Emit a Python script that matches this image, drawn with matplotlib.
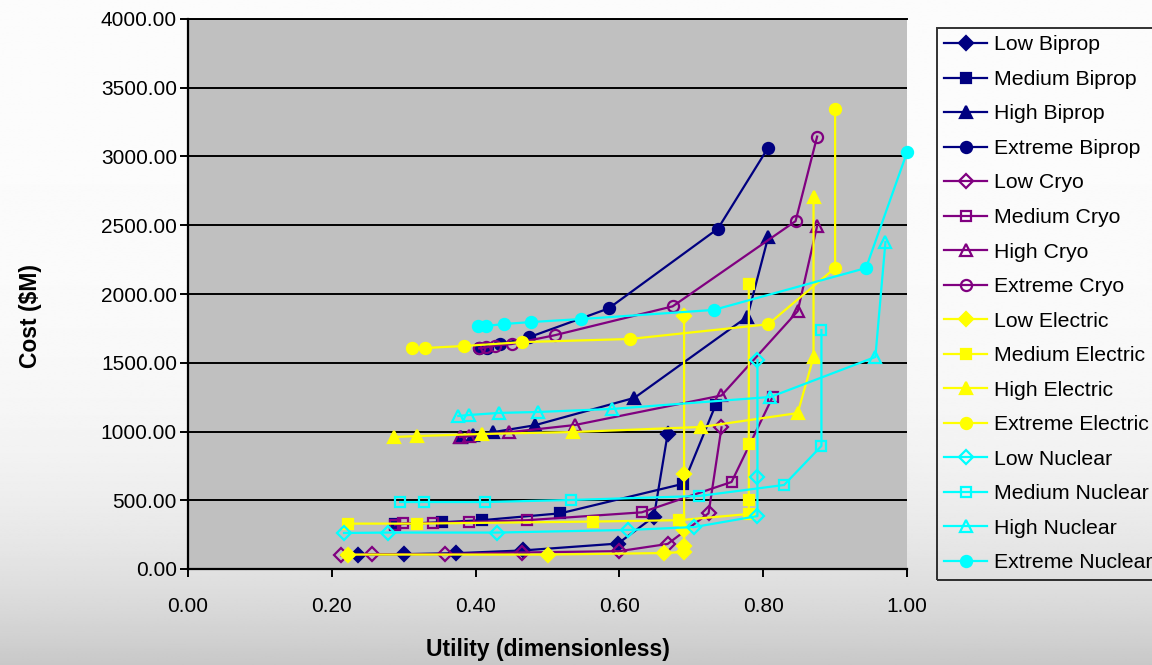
import numpy as np
import matplotlib
matplotlib.use("Agg")
import matplotlib.pyplot as plt
from matplotlib.ticker import FormatStrFormatter

plt.rcParams['font.family'] = ['Liberation Sans', 'DejaVu Sans']

# Propulsion options: utility (dimensionless) vs cost ($M)
series_names = [
    "Low Biprop", "Medium Biprop", "High Biprop", "Extreme Biprop",
    "Low Cryo", "Medium Cryo", "High Cryo", "Extreme Cryo",
    "Low Electric", "Medium Electric", "High Electric", "Extreme Electric",
    "Low Nuclear", "Medium Nuclear", "High Nuclear", "Extreme Nuclear",
]

low_biprop_x = [0.237, 0.300, 0.373, 0.466, 0.598, 0.648, 0.667]
low_biprop_y = [105, 108, 115, 135, 185, 380, 980]
medium_biprop_x = [0.288, 0.353, 0.409, 0.518, 0.689, 0.734]
medium_biprop_y = [325, 340, 355, 405, 620, 1195]
high_biprop_x = [0.379, 0.397, 0.424, 0.482, 0.621, 0.778, 0.807]
high_biprop_y = [960, 975, 995, 1045, 1245, 1835, 2415]
extreme_biprop_x = [0.405, 0.416, 0.434, 0.474, 0.585, 0.737, 0.807]
extreme_biprop_y = [1605, 1610, 1635, 1685, 1895, 2475, 3065]

low_cryo_x = [0.213, 0.256, 0.357, 0.465, 0.600, 0.667, 0.724, 0.742]
low_cryo_y = [100, 108, 108, 120, 130, 182, 405, 1030]
medium_cryo_x = [0.288, 0.299, 0.341, 0.391, 0.472, 0.631, 0.756, 0.813]
medium_cryo_y = [320, 332, 335, 342, 355, 412, 633, 1250]
high_cryo_x = [0.378, 0.391, 0.447, 0.538, 0.742, 0.848, 0.875]
high_cryo_y = [960, 967, 995, 1047, 1262, 1875, 2495]
extreme_cryo_x = [0.405, 0.415, 0.427, 0.450, 0.510, 0.674, 0.845, 0.875]
extreme_cryo_y = [1605, 1612, 1625, 1636, 1700, 1910, 2530, 3145]

low_electric_x = [0.223, 0.500, 0.662, 0.690, 0.690, 0.690, 0.690, 0.690]
low_electric_y = [105, 105, 116, 124, 167, 284, 690, 1840]
medium_electric_x = [0.223, 0.319, 0.563, 0.683, 0.780, 0.780, 0.780, 0.780]
medium_electric_y = [330, 330, 345, 355, 400, 500, 910, 2070]
high_electric_x = [0.286, 0.319, 0.409, 0.535, 0.714, 0.848, 0.870, 0.870]
high_electric_y = [960, 967, 982, 996, 1033, 1134, 1542, 2705]
extreme_electric_x = [0.312, 0.329, 0.384, 0.465, 0.615, 0.807, 0.900, 0.900]
extreme_electric_y = [1605, 1607, 1622, 1650, 1673, 1780, 2189, 3345]

low_nuclear_x = [0.217, 0.278, 0.430, 0.612, 0.704, 0.792, 0.792, 0.792]
low_nuclear_y = [262, 265, 265, 284, 305, 385, 669, 1520]
medium_nuclear_x = [0.295, 0.328, 0.413, 0.533, 0.711, 0.829, 0.881, 0.881]
medium_nuclear_y = [487, 487, 487, 502, 531, 611, 895, 1738]
high_nuclear_x = [0.376, 0.391, 0.432, 0.487, 0.590, 0.810, 0.956, 0.970]
high_nuclear_y = [1113, 1120, 1135, 1142, 1164, 1251, 1542, 2378]
extreme_nuclear_x = [0.403, 0.414, 0.440, 0.477, 0.547, 0.731, 0.943, 1.000]
extreme_nuclear_y = [1767, 1767, 1782, 1796, 1818, 1884, 2189, 3030]

xs = [low_biprop_x, medium_biprop_x, high_biprop_x, extreme_biprop_x,
      low_cryo_x, medium_cryo_x, high_cryo_x, extreme_cryo_x,
      low_electric_x, medium_electric_x, high_electric_x, extreme_electric_x,
      low_nuclear_x, medium_nuclear_x, high_nuclear_x, extreme_nuclear_x]
ys = [low_biprop_y, medium_biprop_y, high_biprop_y, extreme_biprop_y,
      low_cryo_y, medium_cryo_y, high_cryo_y, extreme_cryo_y,
      low_electric_y, medium_electric_y, high_electric_y, extreme_electric_y,
      low_nuclear_y, medium_nuclear_y, high_nuclear_y, extreme_nuclear_y]

x_ticks = [0.0, 0.2, 0.4, 0.6, 0.8, 1.0]
y_ticks = [0, 500, 1000, 1500, 2000, 2500, 3000, 3500, 4000]

# styling per propulsion family / level
family_colors = {"Biprop": "#000080", "Cryo": "#800080",
                 "Electric": "#FFFF00", "Nuclear": "#00FFFF"}
level_markers = {"Low": "D", "Medium": "s", "High": "^", "Extreme": "o"}
level_sizes = {"Low": 7.0, "Medium": 7.5, "High": 8.5, "Extreme": 8.0}
open_families = {"Cryo"}

W, H = 1152, 665
fig = plt.figure(figsize=(W / 100, H / 100), dpi=100)

# light vertical gradient behind everything
bg = fig.add_axes([0, 0, 1, 1], zorder=-10)
t = np.linspace(0, 1, 400)[:, None]
shade = 0.985 - 0.20 * t ** 4.5
bg.imshow(np.repeat(shade, 2, axis=1), cmap="gray", vmin=0, vmax=1,
          aspect="auto", extent=[0, 1, 0, 1], interpolation="bilinear")
bg.set_axis_off()

ax = fig.add_axes([188 / W, 96 / H, 719 / W, 550 / H])
ax.set_facecolor("#C0C0C0")

handles = []
for name, x, y in zip(series_names, xs, ys):
    level, family = name.split()
    col = family_colors[family]
    hollow = family in open_families or (family == "Nuclear" and level != "Extreme")
    ln, = ax.plot(x, y, color=col, lw=1.6, marker=level_markers[level],
                  ms=level_sizes[level], mec=col, mew=1.6,
                  mfc="none" if hollow else col, label=name, clip_on=False,
                  zorder=3)
    handles.append(ln)

ax.set_xlim(0, 1)
ax.set_ylim(0, 4000)
ax.set_xticks(x_ticks)
ax.set_yticks(y_ticks)
ax.xaxis.set_major_formatter(FormatStrFormatter("%.2f"))
ax.yaxis.set_major_formatter(FormatStrFormatter("%.2f"))
ax.grid(axis="y", color="black", lw=1.4, zorder=1)
ax.set_axisbelow(True)
for side in ("left", "bottom"):
    ax.spines[side].set_linewidth(1.6)
    ax.spines[side].set_color("black")
ax.spines["right"].set_visible(False)
ax.spines["top"].set_linewidth(1.4)
ax.tick_params(axis="both", direction="out", length=6, width=1.4,
               labelsize=15, colors="black")
ax.tick_params(axis="x", pad=14)
ax.tick_params(axis="y", pad=2)

ax.set_xlabel("Utility (dimensionless)", fontsize=16.5, fontweight="bold",
              labelpad=16)
fig.text(30 / W, (H - 316) / H, "Cost ($M)", rotation=90, fontsize=16.5,
         fontweight="bold", ha="center", va="center")

leg = fig.legend(handles=handles, loc="upper left",
                 bbox_to_anchor=(937 / W, (H - 28) / H), frameon=True,
                 fontsize=15.3, handlelength=2.0, handletextpad=0.35,
                 borderpad=0.35, labelspacing=0.73, borderaxespad=0,
                 fancybox=False, numpoints=1)
frame = leg.get_frame()
frame.set_facecolor("none")
frame.set_edgecolor("black")
frame.set_linewidth(1.4)

fig.savefig("out.png", dpi=100)
